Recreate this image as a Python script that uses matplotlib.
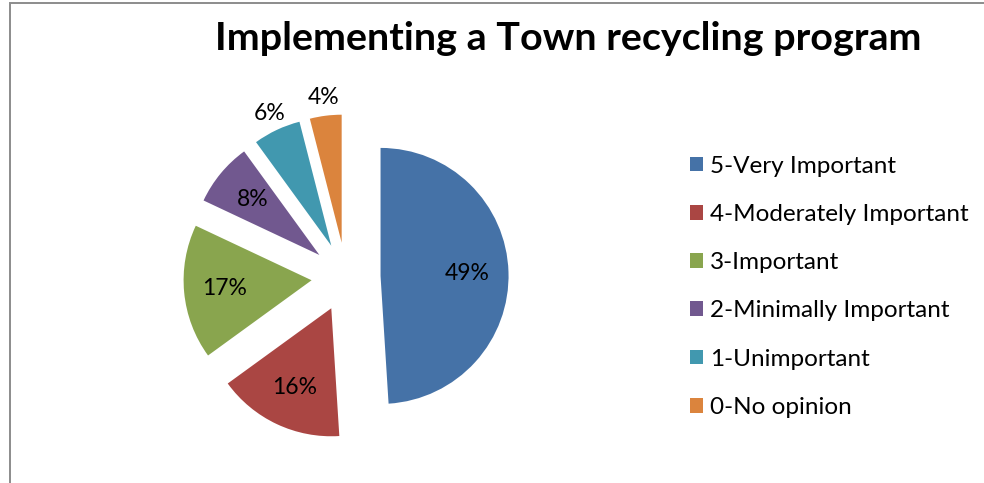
import numpy as np
import matplotlib
matplotlib.use("Agg")
import matplotlib.pyplot as plt
from matplotlib.patches import Rectangle

# Survey answers for the recycling program question
categories = ["5-Very Important", "4-Moderately Important", "3-Important",
              "2-Minimally Important", "1-Unimportant", "0-No opinion"]
shares = [49, 16, 17, 8, 6, 4]
colors = ["#4572A7", "#AA4643", "#89A54E", "#71588F", "#4198AF", "#DB843D"]

plt.rcParams["font.family"] = ["Lato", "DejaVu Sans"]

W, H = 984, 483
fig = plt.figure(figsize=(W / 100, H / 100), dpi=100)
fig.patch.set_facecolor("white")

# grey frame, open on the right and bottom
fig.patches.append(Rectangle((10 / W, -0.1), 1.2, (H - 3.5) / H + 0.1,
                             transform=fig.transFigure, fill=False,
                             edgecolor="#8c8c8c", linewidth=1.4))

# pie axes: 400x400 px box, radius 1 = 128 px
cx, cy, box = 346, 277, 400
ax = fig.add_axes([(cx - box / 2) / W, (H - cy - box / 2) / H, box / W, box / H])
lim = box / 2 / 128

wedges, texts, autotexts = ax.pie(
    shares, colors=colors, startangle=90, counterclock=False,
    explode=[0.27] * len(shares), autopct="%.0f%%", pctdistance=0.68,
    textprops=dict(fontsize=16.5, color="black"), frame=True)
ax.set_xlim(-lim, lim)
ax.set_ylim(-lim, lim)
ax.set_aspect("equal")
ax.axis("off")

# small slices get their labels outside the wedge
for w, t, v in zip(wedges, autotexts, shares):
    if v < 8:
        mid = np.deg2rad((w.theta1 + w.theta2) / 2)
        x0, y0 = w.center
        t.set_position((x0 + 1.14 * np.cos(mid), y0 + 1.14 * np.sin(mid)))

fig.text(568 / W, 1 - 38 / H, "Implementing a Town recycling program",
         ha="center", va="center", fontsize=28.4, fontweight="bold")

fig.legend(wedges, categories, loc="upper left",
           bbox_to_anchor=(680 / W, 1 - 146 / H), frameon=False,
           fontsize=17.5, handlelength=0.55, handleheight=0.55,
           handletextpad=0.3, labelspacing=1.12, borderaxespad=0)

fig.savefig("out.png", dpi=100)
